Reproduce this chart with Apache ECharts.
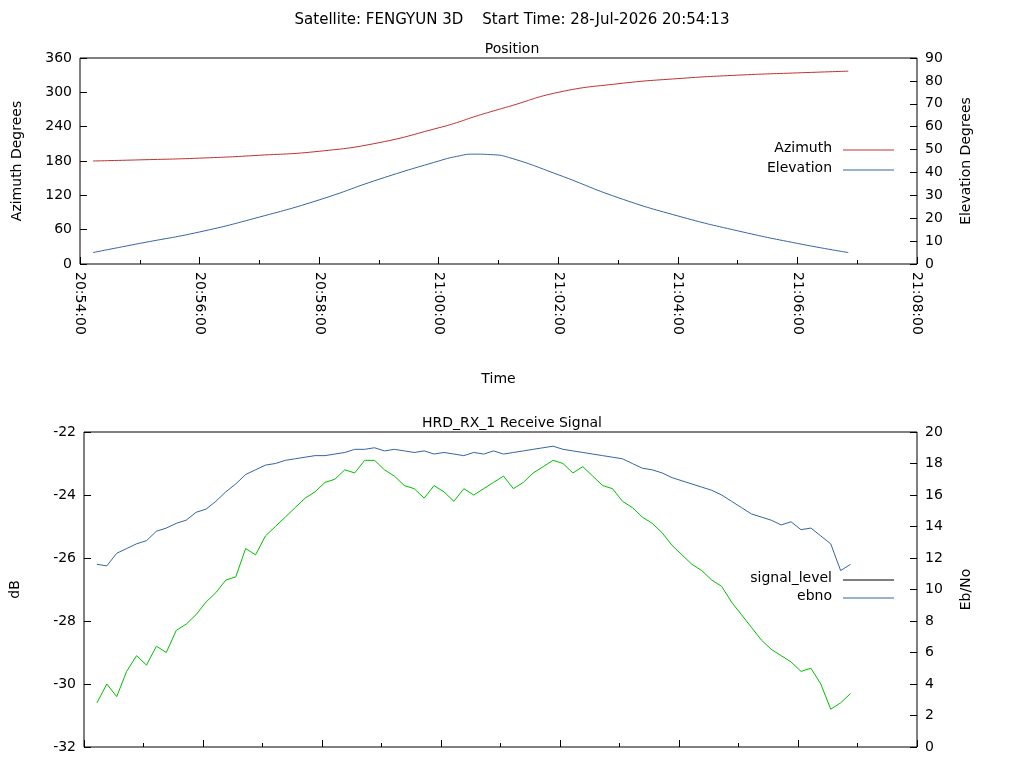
<!DOCTYPE html>
<html>
<head>
<meta charset="utf-8">
<script src="https://cdn.jsdelivr.net/npm/echarts@6/dist/echarts.min.js"></script>
<style>html,body{margin:0;padding:0;background:#fff}#c{width:1024px;height:768px}</style>
</head>
<body>
<div id="c"></div>
<script>
// time in seconds after 20:54:00
var posTimes = [13, 60, 120, 180, 240, 300, 360, 378, 395, 412, 430, 480, 540, 600, 660, 720, 771];
var azimuth = [180, 182, 185, 190, 197, 212, 238, 247, 257, 266, 275, 300, 315, 324, 330, 334, 337];
var elevation = [5, 9, 14, 20.5, 28, 37, 45, 47, 48, 47.8, 46.6, 39, 29, 21, 14.5, 9, 5];

var sigStart = 13, sigStep = 10;
var signalLevel = [-30.6,-30.0,-30.4,-29.6,-29.1,-29.4,-28.8,-29.0,-28.3,-28.1,-27.8,-27.4,-27.1,-26.7,-26.6,-25.7,-25.9,-25.3,-25.0,-24.7,-24.4,-24.1,-23.9,-23.6,-23.5,-23.2,-23.3,-22.9,-22.9,-23.2,-23.4,-23.7,-23.8,-24.1,-23.7,-23.9,-24.2,-23.8,-24.0,-23.8,-23.6,-23.4,-23.8,-23.6,-23.3,-23.1,-22.9,-23.0,-23.3,-23.1,-23.4,-23.7,-23.8,-24.2,-24.4,-24.7,-24.9,-25.2,-25.6,-25.9,-26.2,-26.4,-26.7,-26.9,-27.4,-27.8,-28.2,-28.6,-28.9,-29.1,-29.3,-29.6,-29.5,-30.0,-30.8,-30.6,-30.3];
var ebno = [11.6,11.5,12.3,12.6,12.9,13.1,13.7,13.9,14.2,14.4,14.9,15.1,15.6,16.2,16.7,17.3,17.6,17.9,18.0,18.2,18.3,18.4,18.5,18.5,18.6,18.7,18.9,18.9,19.0,18.8,18.9,18.8,18.7,18.8,18.6,18.7,18.6,18.5,18.7,18.6,18.8,18.6,18.7,18.8,18.9,19.0,19.1,18.9,18.8,18.7,18.6,18.5,18.4,18.3,18.0,17.7,17.6,17.4,17.1,16.9,16.7,16.5,16.3,16.0,15.6,15.2,14.8,14.6,14.4,14.1,14.3,13.8,13.9,13.4,12.9,11.2,11.6];

function pairs(t, v) { return v.map(function (y, i) { return [t[i], y]; }); }
function steps(v) { return v.map(function (y, i) { return [sigStart + i * sigStep, y]; }); }
function hms(s) {
  var h = 20, m = 54 + Math.floor(s / 60);
  h += Math.floor(m / 60); m = m % 60;
  var sec = s % 60;
  return h + ':' + (m < 10 ? '0' : '') + m + ':' + (sec < 10 ? '0' : '') + sec;
}

var font = 'DejaVu Sans';
var fs = 14;
var txt = { color: '#000', fontFamily: font, fontSize: fs };
function xAxis(idx, labels) {
  return {
    type: 'value', gridIndex: idx, min: 0, max: 840, interval: 120,
    axisLine: { show: false }, splitLine: { show: false },
    axisTick: { inside: true, length: 7, lineStyle: { color: '#000' } },
    minorTick: { show: true, splitNumber: 2, length: 4, lineStyle: { color: '#000' } },
    axisLabel: labels ? { show: true, rotate: -90, formatter: hms, color: '#000', fontFamily: font, fontSize: fs, margin: 8 } : { show: false },
    name: labels ? 'Time' : '', nameLocation: 'middle', nameGap: 108, nameTextStyle: txt
  };
}
function yAxis(idx, pos, min, max, intv, name, gap) {
  return {
    type: 'value', gridIndex: idx, position: pos, min: min, max: max, interval: intv,
    axisLine: { show: false }, splitLine: { show: false },
    axisTick: { inside: true, length: 7, lineStyle: { color: '#000' } },
    axisLabel: { color: '#000', fontFamily: font, fontSize: fs },
    name: name, nameLocation: 'middle', nameRotate: 90, nameGap: gap, nameTextStyle: txt
  };
}
function legendItem(label, color, y) {
  return [
    { type: 'text', right: 192, top: y - 9, style: { text: label, fill: '#000', font: fs + 'px "DejaVu Sans"', textAlign: 'right' } },
    { type: 'line', shape: { x1: 843, y1: y, x2: 894, y2: y }, style: { stroke: color, lineWidth: 1 } }
  ];
}

var chart = echarts.init(document.getElementById('c'));
chart.setOption({
  animation: false,
  backgroundColor: '#fff',
  title: [
    { text: 'Satellite: FENGYUN 3D    Start Time: 28-Jul-2026 20:54:13', left: 'center', top: 8, textStyle: { fontWeight: 'normal', fontFamily: font, fontSize: 15, color: '#000' } },
    { text: 'Position', left: 'center', top: 37, textStyle: { fontWeight: 'normal', fontFamily: font, fontSize: fs, color: '#000' } },
    { text: 'HRD_RX_1 Receive Signal', left: 'center', top: 411, textStyle: { fontWeight: 'normal', fontFamily: font, fontSize: fs, color: '#000' } }
  ],
  grid: [
    { left: 80, right: 107, top: 58, height: 206, show: true, borderColor: '#000', borderWidth: 1 },
    { left: 80, right: 107, top: 432, height: 315, show: true, borderColor: '#000', borderWidth: 1 }
  ],
  graphic: [].concat(
    legendItem('Azimuth', '#c03030', 150),
    legendItem('Elevation', '#3465a4', 170),
    legendItem('signal_level', '#000', 580),
    legendItem('ebno', '#3465a4', 598)
  ),
  xAxis: [xAxis(0, true), xAxis(1, false)],
  yAxis: [
    yAxis(0, 'left', 0, 360, 60, 'Azimuth Degrees', 56),
    yAxis(0, 'right', 0, 90, 10, 'Elevation Degrees', 42),
    yAxis(1, 'left', -32, -22, 2, 'dB', 62),
    yAxis(1, 'right', 0, 20, 2, 'Eb/No', 42)
  ],
  series: [
    { name: 'Azimuth', type: 'line', xAxisIndex: 0, yAxisIndex: 0, smooth: true, showSymbol: false, lineStyle: { width: 1, color: '#c03030' }, data: pairs(posTimes, azimuth) },
    { name: 'Elevation', type: 'line', xAxisIndex: 0, yAxisIndex: 1, smooth: true, showSymbol: false, lineStyle: { width: 1, color: '#3465a4' }, data: pairs(posTimes, elevation) },
    { name: 'signal_level', type: 'line', xAxisIndex: 1, yAxisIndex: 2, showSymbol: false, lineStyle: { width: 1, color: '#00c000' }, data: steps(signalLevel) },
    { name: 'ebno', type: 'line', xAxisIndex: 1, yAxisIndex: 3, showSymbol: false, lineStyle: { width: 1, color: '#3465a4' }, data: steps(ebno) }
  ]
});
</script>
</body>
</html>
